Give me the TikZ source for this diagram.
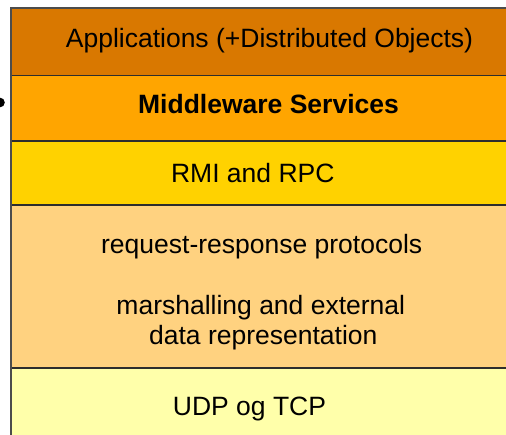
\documentclass[tikz,border=0pt]{standalone}
\usepackage{fontspec}
\setmainfont{Liberation Sans}
\definecolor{appC}{RGB}{217,120,0}
\definecolor{midC}{RGB}{255,165,0}
\definecolor{rmiC}{RGB}{255,210,0}
\definecolor{reqC}{RGB}{255,210,128}
\definecolor{udpC}{RGB}{255,255,170}
\definecolor{lineC}{RGB}{45,45,45}
\begin{document}
\begin{tikzpicture}[x=1pt,y=-1pt,
  layertext/.style={anchor=base,inner sep=0pt,font=\fontsize{26.5}{31}\selectfont,text=black},
  sep/.style={draw=lineC,line width=1.6pt}]
\useasboundingbox (0,0) rectangle (506,435);
\clip (0,0) rectangle (506,435);
\fill[white] (0,0) rectangle (506,435);
% layers
\fill[appC] (11,8) rectangle (530,75.5);
\fill[midC] (11,75.5) rectangle (530,141);
\fill[rmiC] (11,141) rectangle (530,205);
\fill[reqC] (11,205) rectangle (530,368);
\fill[udpC] (11,368) rectangle (530,440);
% borders
\draw[draw=gray!60!black,line width=1.2pt] (11,8) -- (530,8);
\draw[sep] (11,75.5) -- (530,75.5);
\draw[sep] (11,141) -- (530,141);
\draw[sep] (11,205) -- (530,205);
\draw[sep] (11,368) -- (530,368);
\draw[draw=gray!60!black,line width=2pt] (11,7.4) -- (11,440);
% dot
\fill[black] (0,102.5) circle (4.8);
% texts
\node[layertext] (app) at (269.5,48) {Applications (+Distributed Objects)};
\node[layertext,font=\fontsize{26.5}{31}\selectfont\bfseries] (mid) at (268.5,113.5) {Middleware Services};
\node[layertext] (rmi) at (252.8,182.7) {RMI and RPC};
\node[layertext] (req) at (261.7,253.3) {request-response protocols};
\node[layertext] (mar) at (260.8,314.3) {marshalling and external};
\node[layertext] (dat) at (263.3,345) {data representation};
\node[layertext] (udp) at (249.5,415) {UDP og TCP};
\end{tikzpicture}
\end{document}
